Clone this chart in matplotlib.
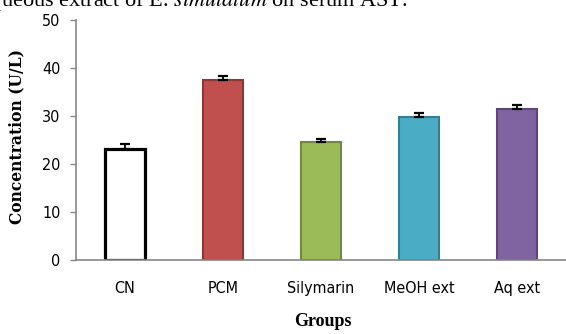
import matplotlib
matplotlib.use("Agg")
import matplotlib.pyplot as plt
from matplotlib import font_manager as fm

categories = ["CN", "PCM", "Silymarin", "MeOH ext", "Aq ext"]
values = [23.1, 37.5, 24.6, 29.7, 31.4]
errors = [1.0, 0.8, 0.7, 1.0, 0.8]
face_colors = ["#FFFFFF", "#C0504D", "#9BBB59", "#4BACC6", "#8064A2"]
edge_colors = ["#000000", "#8C3836", "#71893F", "#357D91", "#5C4776"]
edge_widths = [2.3, 1.5, 1.5, 1.5, 1.5]
yticks = [0, 10, 20, 30, 40, 50]

# find a condensed sans font for Calibri-like tick labels
cond_path = None
for f in fm.fontManager.ttflist:
    fn = f.fname.lower()
    if "dejavusanscondensed.ttf" in fn.replace("-", ""):
        cond_path = f.fname
        break
if cond_path is None:
    for f in fm.fontManager.ttflist:
        fn = f.fname.lower()
        if ("condensed" in fn or "narrow" in fn) and "bold" not in fn and "oblique" not in fn and "italic" not in fn:
            cond_path = f.fname
            break
if cond_path:
    tick_fp = fm.FontProperties(fname=cond_path, size=11.5)
else:
    tick_fp = fm.FontProperties(family="DejaVu Sans", size=10.5)

W, H = 566, 334
fig = plt.figure(figsize=(W / 100, H / 100), dpi=100)
ax = fig.add_axes([76 / W, 1 - 260 / H, (566 - 76) / W, (260 - 20) / H])

x = list(range(len(categories)))
ax.bar(x, values, width=0.41, color=face_colors, edgecolor=edge_colors,
       linewidth=edge_widths, zorder=2)
ax.errorbar(x, values, yerr=[[0] * len(errors), errors], fmt="none",
            ecolor="black", elinewidth=1.3, capsize=3.5, capthick=1.6, zorder=3)

ax.set_xlim(-0.5, len(categories) - 0.5)
ax.set_ylim(0, 50)
ax.set_yticks(yticks)
ax.set_yticklabels([str(t) for t in yticks], fontproperties=tick_fp)
ax.set_xticks(x)
ax.set_xticklabels(categories, fontproperties=tick_fp)
ax.tick_params(axis="x", length=0, pad=15)
ax.tick_params(axis="y", length=4, width=1, color="#868686", pad=7)
for s in ["top", "right"]:
    ax.spines[s].set_visible(False)
for s in ["left", "bottom"]:
    ax.spines[s].set_color("#868686")
    ax.spines[s].set_linewidth(1.2)

fig.text(17 / W, 1 - 136 / H, "Concentration (U/L)", rotation=90,
         ha="center", va="center", fontsize=11.2, fontweight="bold",
         family="DejaVu Serif")
fig.text(323 / W, 1 - 322 / H, "Groups", ha="center", va="center",
         fontsize=13, fontweight="bold", family="Liberation Serif")

plt.rcParams["mathtext.fontset"] = "stix"
fig.text(408 / W, 1 - 6 / H, r"aqueous extract of E. $\mathit{simulatum}$ on serum AST.",
         ha="right", va="baseline", fontsize=16, family="Liberation Serif")

fig.savefig("out.png", dpi=100)
